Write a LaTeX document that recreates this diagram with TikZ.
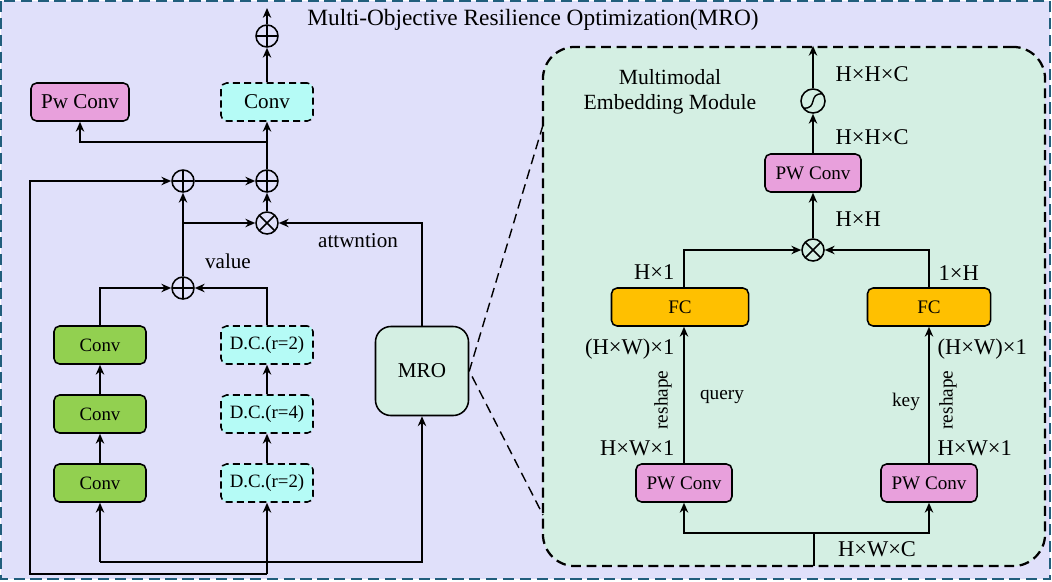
\documentclass[tikz,border=0pt]{standalone}
\usepackage{fontspec}
\setmainfont{Liberation Serif}
\usetikzlibrary{arrows.meta}

\definecolor{lavbg}{HTML}{E0E0FA}
\definecolor{mintbg}{HTML}{D4EFE3}
\definecolor{pwpink}{HTML}{E8A0DC}
\definecolor{dccyan}{HTML}{B5FBF6}
\definecolor{convgreen}{HTML}{92D050}
\definecolor{fcgold}{HTML}{FFC000}
\definecolor{edgeteal}{HTML}{215E7C}

\tikzset{
  blk/.style={draw, line width=1.1pt, rounded corners=4pt, minimum height=0.95cm, inner sep=0pt},
  convblk/.style={blk, fill=convgreen, minimum width=2.3cm, font=\fontsize{13.4}{15}\selectfont},
  dcblk/.style={blk, fill=dccyan, dash pattern=on 5pt off 3pt, minimum width=2.3cm, font=\fontsize{13.4}{15}\selectfont},
  pwblk/.style={blk, fill=pwpink, minimum width=2.4cm, font=\fontsize{13.6}{15}\selectfont},
  fcblk/.style={blk, fill=fcgold, font=\fontsize{13.6}{15}\selectfont},
  mroblk/.style={blk, fill=mintbg, rounded corners=11pt, minimum width=2.325cm, minimum height=2.225cm, font=\fontsize{15}{17}\selectfont},
  opnode/.style={circle, draw, line width=1.1pt, minimum size=0.55cm, inner sep=0pt},
  oplus/.style={opnode, path picture={\draw[line width=1.1pt] (path picture bounding box.north) -- (path picture bounding box.south) (path picture bounding box.west) -- (path picture bounding box.east);}},
  otimes/.style={opnode, path picture={\draw[line width=1.1pt] (path picture bounding box.north west) -- (path picture bounding box.south east) (path picture bounding box.north east) -- (path picture bounding box.south west);}},
  sigmoid/.style={opnode, minimum size=0.6cm, path picture={\draw[line width=1pt] ([xshift=-7pt,yshift=-5pt]path picture bounding box.center) .. controls ([xshift=4pt,yshift=-6pt]path picture bounding box.center) and ([xshift=-4pt,yshift=6pt]path picture bounding box.center) .. ([xshift=7pt,yshift=5pt]path picture bounding box.center);}},
  flow/.style={-{Stealth[length=7pt,width=6pt]}, line width=1.1pt},
  dimlbl/.style={font=\fontsize{16}{18}\selectfont, inner sep=1pt},
  txtlbl/.style={font=\fontsize{13.7}{15}\selectfont, inner sep=1pt},
}

\begin{document}
\begin{tikzpicture}[x=0.025cm, y=-0.025cm]
      \useasboundingbox (0,0) rectangle (1052,581);
      \draw[edgeteal, dash pattern=on 8pt off 4pt, line width=1.6pt, fill=lavbg] (1,1) rectangle (1050,579);
      \node[font=\fontsize{16.6}{19}\selectfont] (title) at (533,20) {Multi-Objective Resilience Optimization(MRO)};

      % embedding module frame
      \node[draw, fill=mintbg, line width=1.6pt, dash pattern=on 7pt off 4pt, rounded corners=0.8cm,
            minimum width=12.55cm, minimum height=12.975cm, inner sep=0pt] (emb) at (794,306.5) {};

      % left branch
      \node[oplus] (outsum) at (267,36) {};
      \coordinate (outtip) at (267,8);
      \node[dcblk, font=\fontsize{15}{17}\selectfont] (headconv) at (267,102) {Conv};
      \node[pwblk, minimum width=2.45cm, font=\fontsize{15}{17}\selectfont] (pwleft) at (80,102) {Pw Conv};
      \coordinate (branchtop) at (267,142);
      \node[oplus] (sumB) at (267,181) {};
      \node[oplus] (sumA) at (183,181) {};
      \node[otimes] (mulA) at (267,223) {};
      \node[oplus] (sumV) at (183,288) {};

      \node[convblk] (conv3) at (100,345) {Conv};
      \node[convblk] (conv2) at (100,414) {Conv};
      \node[convblk] (conv1) at (100,483) {Conv};
      \node[dcblk] (dc3) at (267,345) {D.C.(r=2)};
      \node[dcblk] (dc2) at (267,414) {D.C.(r=4)};
      \node[dcblk] (dc1) at (267,483) {D.C.(r=2)};
      \node[mroblk] (mro) at (422,371) {MRO};

      \node[font=\fontsize{15}{17}\selectfont] (value) at (228,261) {value};
      \node[font=\fontsize{15}{17}\selectfont] (attn) at (358,241) {attwntion};

      \coordinate (inbase) at (267,574);
      \coordinate (loopcorner) at (30,574);
      \coordinate (feedL) at (100,562);

      \draw[flow] (outsum.north) -- (outtip);
      \draw[flow] (headconv.north) -- (outsum.south);
      \draw[flow] (sumB.north) -- (headconv.south);
      \draw[flow] (branchtop) -| (pwleft.south);
      \draw[flow] (mulA.north) -- (sumB.south);
      \draw[flow] (sumA.east) -- (sumB.west);
      \draw[flow] (sumV.north) -- (sumA.south);
      \draw[flow] (sumV |- mulA) -- (mulA.west);
      \draw[flow] (mro.north) |- (mulA.east);
      \draw[flow] (conv3.north) |- (sumV.west);
      \draw[flow] (dc3.north) |- (sumV.east);
      \draw[flow] (conv1.north) -- (conv2.south);
      \draw[flow] (conv2.north) -- (conv3.south);
      \draw[flow] (dc1.north) -- (dc2.south);
      \draw[flow] (dc2.north) -- (dc3.south);
      \draw[flow] (inbase) -- (dc1.south);
      \draw[flow] (inbase) -- (loopcorner) |- (sumA.west);
      \draw[flow] (feedL) -- (conv1.south);
      \draw[flow] (feedL) -| (mro.south);

      % zoom lines
      \coordinate (zoomtop) at (543,125);
      \coordinate (zoombot) at (543,515);
      \draw[dash pattern=on 7pt off 4pt, line width=1pt] (zoomtop) -- (mro.east) -- (zoombot);

      % embedding module
      \node[align=center, font=\fontsize{15.4}{17.5}\selectfont] (embtitle) at (670,92) {Multimodal\\Embedding Module};
      \node[sigmoid] (sig) at (813,101) {};
      \node[pwblk] (pwtop) at (813,173) {PW Conv};
      \node[otimes] (mulB) at (813,250) {};
      \node[fcblk, minimum width=3.425cm] (fcq) at (680,307) {FC};
      \node[fcblk, minimum width=3.075cm] (fck) at (929,307) {FC};
      \node[pwblk] (pwq) at (684,483) {PW Conv};
      \node[pwblk] (pwk) at (929,483) {PW Conv};
      \coordinate (embin) at (814,566);
      \coordinate (split) at (814,533);

      \draw[flow] (sig.north) -- (sig |- emb.north);
      \draw[flow] (pwtop.north) -- (sig.south);
      \draw[flow] (mulB.north) -- (pwtop.south);
      \draw[flow] (pwq.north) -- (pwq.north |- fcq.south);
      \draw[flow] (pwq.north |- fcq.north) |- (mulB.west);
      \draw[flow] (pwk.north) -- (pwk.north |- fck.south);
      \draw[flow] (pwk.north |- fck.north) |- (mulB.east);
      \draw[line width=1.1pt] (embin) -- (split);
      \draw[flow] (split) -| (pwq.south);
      \draw[flow] (split) -| (pwk.south);

      \node[dimlbl, anchor=west] (dimsig) at (834,74) {H×H×C};
      \node[dimlbl, anchor=west] (dimpw) at (834,137) {H×H×C};
      \node[dimlbl, anchor=west] (dimmul) at (834,219) {H×H};
      \node[dimlbl, anchor=east] (dimfcq) at (676,272) {H×1};
      \node[dimlbl, anchor=west] (dimfck) at (937,273) {1×H};
      \node[dimlbl, anchor=east] (dimrq) at (676,349) {(H×W)×1};
      \node[dimlbl, anchor=west] (dimrk) at (936,349) {(H×W)×1};
      \node[dimlbl, anchor=east] (dimpq) at (676,448) {H×W×1};
      \node[dimlbl, anchor=west] (dimpk) at (936,448) {H×W×1};
      \node[dimlbl] (dimin) at (877,549) {H×W×C};
      \node[txtlbl, rotate=90] (reshq) at (663,400) {reshape};
      \node[txtlbl, rotate=90] (reshk) at (948,400) {reshape};
      \node[txtlbl] (query) at (722,397) {query};
      \node[txtlbl] (key) at (906,402) {key};

    \end{tikzpicture}
\end{document}
